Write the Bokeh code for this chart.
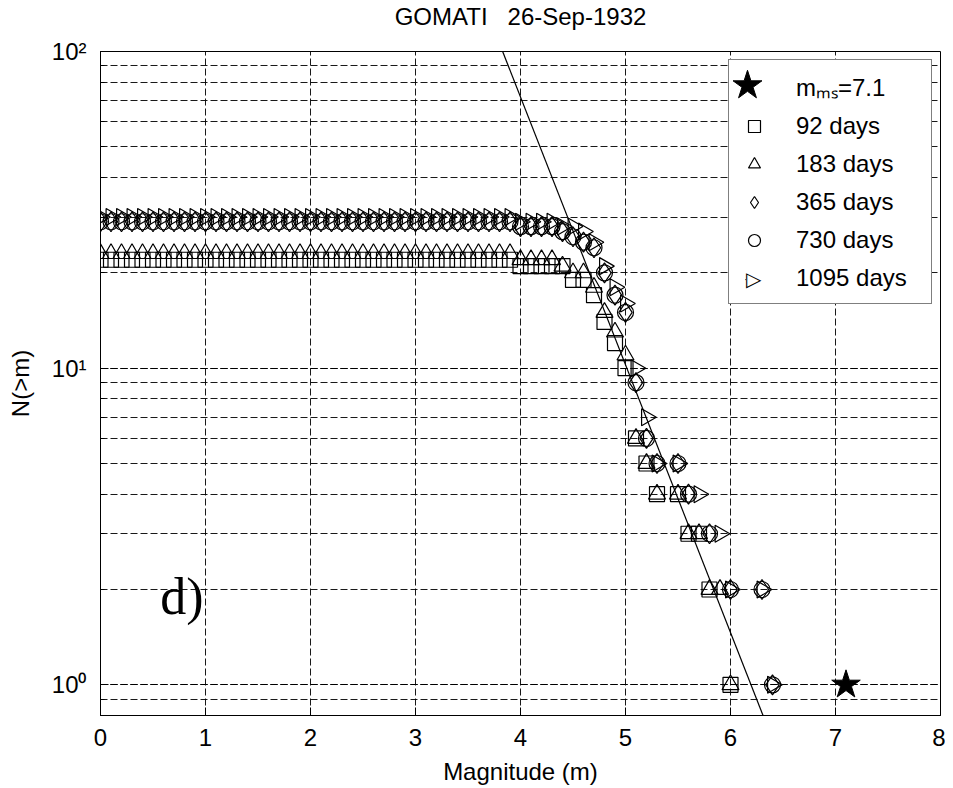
import numpy as np
from bokeh.plotting import figure
from bokeh.models import (Range1d, FixedTicker, CustomJSTickFormatter, Legend,
                          LegendItem, Label, Title)
from bokeh.embed import file_html
from bokeh.resources import INLINE

# ---------------- data ----------------
title_text = "GOMATI \u00a0 26-Sep-1932"
x_label = "Magnitude (m)"
y_label = "N(>m)"
panel_tag = "d)"
x_ticks = [0, 1, 2, 3, 4, 5, 6, 7, 8]

# magnitude bins (0.0 ... 6.4 step 0.1)
magnitudes = [round(0.1 * i, 1) for i in range(65)]

N = None
n_92_days = [
    22, 22, 22, 22, 22, 22, 22, 22, 22, 22,
    22, 22, 22, 22, 22, 22, 22, 22, 22, 22,
    22, 22, 22, 22, 22, 22, 22, 22, 22, 22,
    22, 22, 22, 22, 22, 22, 22, 22, 22, 22,
    21, 21, 21, 21, 21, 19, 19, 17, 14, 12,
    10, 6, 5, 4, N, 4, 3, 3, 2, N,
    1, N, N, N, N]
n_183_days = [
    23, 23, 23, 23, 23, 23, 23, 23, 23, 23,
    23, 23, 23, 23, 23, 23, 23, 23, 23, 23,
    23, 23, 23, 23, 23, 23, 23, 23, 23, 23,
    23, 23, 23, 23, 23, 23, 23, 23, 23, 23,
    22, 22, 22, 22, 21, 20, 20, 18, 15, 13,
    11, 6, 5, 4, N, 4, 3, 3, 2, 2,
    1, N, N, N, N]
n_365_days = [
    29, 29, 29, 29, 29, 29, 29, 29, 29, 29,
    29, 29, 29, 29, 29, 29, 29, 29, 29, 29,
    29, 29, 29, 29, 29, 29, 29, 29, 29, 29,
    29, 29, 29, 29, 29, 29, 29, 29, 29, 29,
    28, 28, 28, 28, 27, 26, 25, 24, 20, 17,
    15, 9, 6, 5, N, 5, 4, N, 3, N,
    2, N, N, 2, 1]
n_730_days = [
    29, 29, 29, 29, 29, 29, 29, 29, 29, 29,
    29, 29, 29, 29, 29, 29, 29, 29, 29, 29,
    29, 29, 29, 29, 29, 29, 29, 29, 29, 29,
    29, 29, 29, 29, 29, 29, 29, 29, 29, 29,
    28, 28, 28, 28, 27, 26, 25, 24, 20, 17,
    15, 9, 6, 5, N, 5, 4, N, 3, N,
    2, N, N, 2, 1]
n_1095_days = [
    30, 30, 30, 30, 30, 30, 30, 30, 30, 30,
    30, 30, 30, 30, 30, 30, 30, 30, 30, 30,
    30, 30, 30, 30, 30, 30, 30, 30, 30, 30,
    30, 30, 30, 30, 30, 30, 30, 30, 30, 30,
    29, 29, 29, 29, 28, 28, 27, 25, 21, 18,
    16, 10, 7, 5, N, 5, N, 4, N, 3,
    2, N, N, 2, 1]

mainshock_mag = [7.1]
mainshock_n = [1]
mainshock_label = "m\u2098\u209b=7.1"

# Gutenberg-Richter fit line end points
fit_mag = [3.83, 6.31]
fit_n = [100, 0.8]

series_labels = ["92 days", "183 days", "365 days", "730 days", "1095 days"]

# ---------------- figure ----------------
FONT = "Liberation Sans"
p = figure(width=945, height=787, x_range=Range1d(0, 8), y_range=Range1d(0.8, 100),
           y_axis_type="log", output_backend="svg", toolbar_location=None,
           min_border_left=100, min_border_right=5, min_border_top=51,
           min_border_bottom=72, title=title_text)
p.background_fill_color = "white"
p.border_fill_color = "white"
p.outline_line_color = "black"
p.outline_line_width = 1

p.title.text_font = FONT
p.title.text_font_size = "24px"
p.title.text_font_style = "normal"
p.title.align = "center"
p.title.text_color = "black"
p.title.standoff = 0
p.title.vertical_align = "top"

# spacer between title and plot frame (pushes the title up)
p.add_layout(Title(text=" ", text_font_size="1px", standoff=17), "above")

for ax in (p.xaxis[0], p.yaxis[0]):
    ax.axis_line_color = "black"
    ax.major_tick_line_color = "black"
    ax.major_tick_in = 8
    ax.major_tick_out = 0
    ax.minor_tick_in = 4
    ax.minor_tick_out = 0
    ax.major_label_text_font = FONT
    ax.major_label_text_font_size = "24px"
    ax.major_label_text_color = "black"
    ax.axis_label_text_font = FONT
    ax.axis_label_text_font_size = "24px"
    ax.axis_label_text_font_style = "normal"
    ax.axis_label_text_color = "black"

p.xaxis.ticker = FixedTicker(ticks=x_ticks)
p.xaxis.minor_tick_line_color = None
p.xaxis.axis_label = x_label
p.xaxis.major_label_standoff = 13
p.xaxis.axis_label_standoff = 9

p.yaxis.axis_label = y_label
p.yaxis.major_label_standoff = 14
p.yaxis.axis_label_standoff = 15
p.yaxis.minor_tick_line_color = "black"
p.yaxis.formatter = CustomJSTickFormatter(code="""
const sup = {0: '\u2070', 1: '\u00b9', 2: '\u00b2', 3: '\u00b3'};
const e = Math.round(Math.log10(tick));
return '10' + (sup[e] !== undefined ? sup[e] : String(e));
""")

for g in (p.xgrid[0], p.ygrid[0]):
    g.grid_line_color = "black"
    g.grid_line_dash = "7 3"
    g.grid_line_width = 1
    g.grid_line_alpha = 0.9
p.ygrid.minor_grid_line_color = "black"
p.ygrid.minor_grid_line_dash = "7 3"
p.ygrid.minor_grid_line_width = 1
p.ygrid.minor_grid_line_alpha = 0.9

mags = np.array(magnitudes, dtype=float)

def arr(v):
    return np.array(v, dtype=float)

# fit line
p.line(fit_mag, fit_n, line_color="black", line_width=1.2)

style = dict(fill_color=None, line_color="black", line_width=1.2)
r92 = p.scatter(mags, arr(n_92_days), marker="square", size=15, **style)
r183 = p.scatter(mags, arr(n_183_days), marker="triangle", size=17, **style)
r365 = p.scatter(mags, arr(n_365_days), marker="diamond", size=20, **style)
r730 = p.scatter(mags, arr(n_730_days), marker="circle", size=16, **style)
r1095 = p.scatter(mags, arr(n_1095_days), marker="triangle", angle=-np.pi / 2,
                  size=17, **style)
rstar = p.scatter(mainshock_mag, mainshock_n, marker="star", size=30,
                  fill_color="black", line_color="black", line_width=1)

# panel tag
p.add_layout(Label(x=0.57, y=1.9, text=panel_tag, text_font="Liberation Serif",
                   text_font_size="52px", text_baseline="middle", text_align="left",
                   text_color="black"))

# main legend box
legB = Legend(items=[
    LegendItem(label=mainshock_label, renderers=[]),
    LegendItem(label=series_labels[0], renderers=[r92]),
    LegendItem(label=series_labels[1], renderers=[r183]),
    LegendItem(label=series_labels[2], renderers=[r365]),
    LegendItem(label=series_labels[3], renderers=[r730]),
    LegendItem(label=series_labels[4], renderers=[]),
], location=(628, 411), padding=10, spacing=8, glyph_width=30, glyph_height=30,
    label_height=30, label_standoff=27, label_width=125, margin=0,
    border_line_color="black", border_line_width=1, background_fill_color="white",
    background_fill_alpha=1, label_text_font=FONT, label_text_font_size="24px",
    label_text_color="black")
p.add_layout(legB)

# big star for the legend's first row
legA = Legend(items=[LegendItem(label="", renderers=[rstar])],
              location=(609, 592), padding=0, spacing=0, glyph_width=76, glyph_height=76,
              label_height=0, label_standoff=0, label_width=0, margin=0,
              border_line_color=None, background_fill_alpha=0,
              label_text_font_size="1px")
p.add_layout(legA)

# right-pointing triangle symbol for the 1095-day legend row
legC = Legend(items=[LegendItem(label="\u25b7", renderers=[r1095])],
              location=(645, 421), padding=0, spacing=0, glyph_width=1, glyph_height=30,
              label_height=30, label_standoff=0, label_width=0, margin=0,
              border_line_color=None, background_fill_alpha=0,
              label_text_font="DejaVu Sans", label_text_font_size="20px",
              label_text_color="black")
p.add_layout(legC)

open("out.html", "w").write(file_html(p, INLINE))
